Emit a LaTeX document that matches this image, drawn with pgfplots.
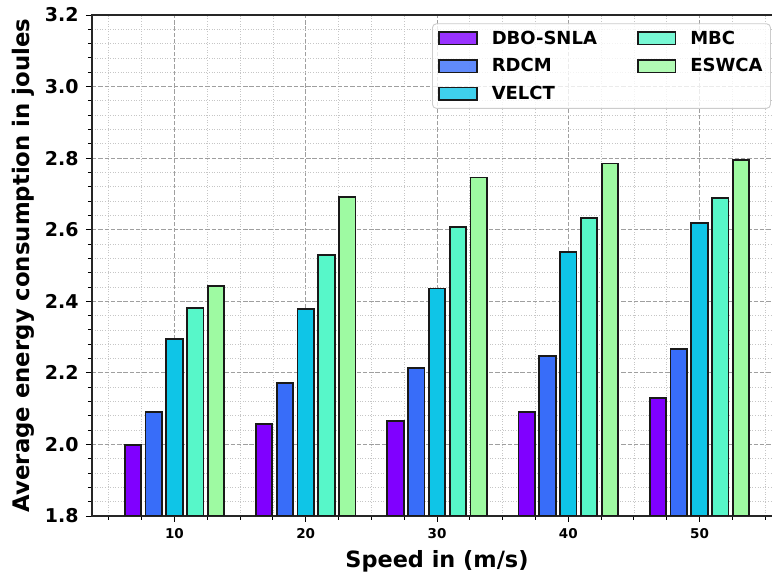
\documentclass[border=0pt]{standalone}
\usepackage{fontspec}
\setmainfont{DejaVu Sans}
\usepackage{pgfplots}
\pgfplotsset{compat=1.18}

% matplotlib "rainbow" colours
\definecolor{cDBO}{HTML}{8000FF}
\definecolor{cRDCM}{HTML}{386DF9}
\definecolor{cVELCT}{HTML}{0FC5E7}
\definecolor{cMBC}{HTML}{57F7C9}
\definecolor{cESWCA}{HTML}{9EFAA2}

\begin{document}
\begin{tikzpicture}
\useasboundingbox (-92pt,-60pt) rectangle (680pt,516pt);
\clip (-92pt,-60pt) rectangle (680pt,516pt);
\begin{axis}[
    at={(0,0)}, anchor=south west,
    scale only axis, width=690pt, height=501pt,
    ybar=4.4pt, bar width=16.4pt,
    xmin=-0.628, xmax=4.628, ymin=1.8, ymax=3.2,
    xtick={0,1,2,3,4}, xticklabels={10,20,30,40,50},
    minor xtick={-0.5,-0.25,0.25,0.5,0.75,1.25,1.5,1.75,2.25,2.5,2.75,3.25,3.5,3.75,4.25,4.5},
    ytick={1.8,2.0,...,3.21}, minor y tick num=4,
    tick align=outside, tick pos=left,
    major tick length=6pt, minor tick length=4pt,
    every tick/.style={black, line width=0.9pt},
    axis line style={black!85, line width=1.1pt},
    grid=both,
    major grid style={gray!75, line width=0.9pt, dash pattern=on 4.4pt off 1.9pt},
    minor grid style={gray!45, line width=0.8pt, dash pattern=on 1pt off 1.6pt},
    /pgf/number format/assume math mode=true,
    y tick label style={font=\bfseries\fontsize{19}{19}\selectfont,
        /pgf/number format/fixed, /pgf/number format/fixed zerofill,
        /pgf/number format/precision=1, xshift=-4pt},
    x tick label style={font=\bfseries\fontsize{13.5}{13.5}\selectfont, yshift=-3pt},
    xlabel={Speed in (m/s)},
    ylabel={Average energy consumption in joules},
    xlabel style={font=\bfseries\fontsize{22.4}{22.4}\selectfont,
        at={(axis description cs:0.5,-0.0898)}, anchor=center},
    ylabel style={font=\bfseries\fontsize{22.8}{22.8}\selectfont,
        at={(axis description cs:-0.1000,0.5)}, anchor=center},
    every axis plot/.append style={draw=black!90, line width=1.8pt},
    legend image code/.code={\draw[#1,/tikz/.cd,sharp corners,line width=1.6pt] (0pt,-6.3pt) rectangle (37.7pt,6.3pt);},
    transpose legend, legend columns=3,
    legend cell align=left,
    legend style={at={(axis description cs:0.984,0.9834)}, anchor=north east,
        draw=gray!40, line width=0.9pt, rounded corners=4pt,
        fill=white, fill opacity=0.8, text opacity=1,
        font=\bfseries\fontsize{18}{18}\selectfont,
        inner xsep=6pt, inner ysep=5pt, row sep=9pt,
        /tikz/every odd column/.append style={column sep=12pt},
        /tikz/every even column/.append style={column sep=38pt}},
]
\addplot[fill=cDBO] coordinates {(0,1.999) (1,2.058) (2,2.065) (3,2.090) (4,2.129)};
\addplot[fill=cRDCM] coordinates {(0,2.090) (1,2.171) (2,2.213) (3,2.248) (4,2.266)};
\addplot[fill=cVELCT] coordinates {(0,2.294) (1,2.379) (2,2.436) (3,2.538) (4,2.618)};
\addplot[fill=cMBC] coordinates {(0,2.382) (1,2.529) (2,2.608) (3,2.633) (4,2.689)};
\addplot[fill=cESWCA] coordinates {(0,2.443) (1,2.691) (2,2.746) (3,2.785) (4,2.795)};
\legend{DBO-SNLA, RDCM, VELCT, MBC, ESWCA}
\end{axis}
\end{tikzpicture}
\end{document}
